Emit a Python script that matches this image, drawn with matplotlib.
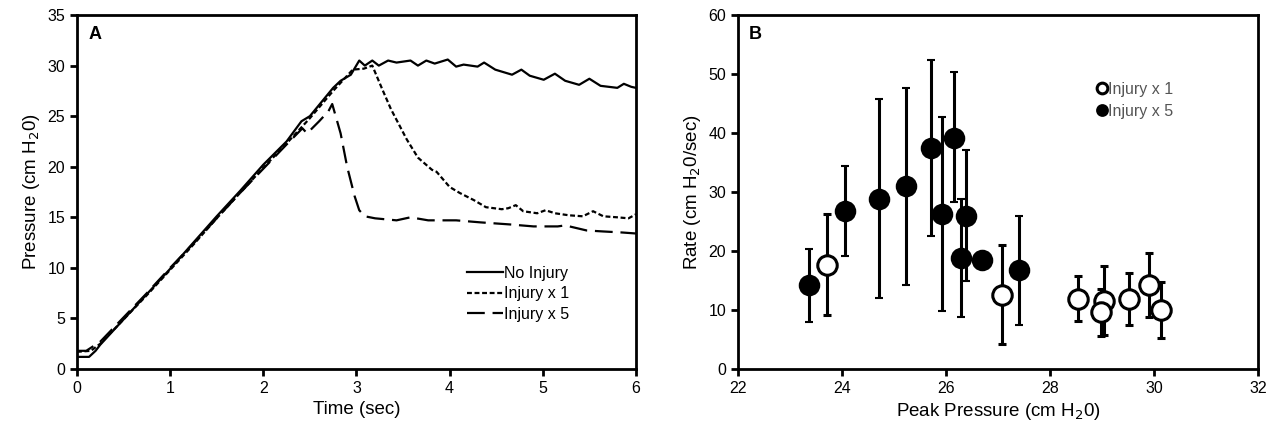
import matplotlib
matplotlib.use("Agg")
import matplotlib.pyplot as plt
import numpy as np

plt.rcParams['font.family'] = ['Liberation Sans', 'DejaVu Sans']

# ---------------- Panel A data ----------------
t_none = [0.0, 0.13, 0.2, 0.25, 0.5, 0.75, 1.0, 1.25, 1.5, 1.75, 2.0, 2.25, 2.41, 2.5, 2.75, 2.83, 2.94,
          3.03, 3.09, 3.17, 3.24, 3.34, 3.43, 3.58, 3.66, 3.75, 3.84, 3.98, 4.07, 4.15, 4.30, 4.37,
          4.49, 4.67, 4.77, 4.86, 5.01, 5.13, 5.24, 5.39, 5.50, 5.62, 5.80, 5.87, 5.95, 6.0]
p_none = [1.2, 1.2, 1.8, 2.4, 4.9, 7.4, 9.9, 12.5, 15.1, 17.6, 20.2, 22.5, 24.5, 25.0, 27.8, 28.5, 29.1,
          30.5, 30.0, 30.5, 30.0, 30.5, 30.3, 30.5, 30.0, 30.5, 30.2, 30.6, 29.9, 30.1, 29.9, 30.3,
          29.6, 29.1, 29.6, 29.0, 28.6, 29.2, 28.5, 28.1, 28.7, 28.0, 27.8, 28.2, 27.9, 27.8]

t_inj1 = [0.0, 0.15, 0.25, 0.5, 0.75, 1.0, 1.25, 1.5, 1.75, 2.0, 2.25, 2.5, 2.75, 2.96, 3.08, 3.17,
          3.28, 3.37, 3.54, 3.66, 3.81, 3.86, 4.0, 4.11, 4.26, 4.39, 4.56, 4.63, 4.71, 4.79, 4.94,
          5.03, 5.13, 5.28, 5.43, 5.54, 5.65, 5.80, 5.92, 6.0]
p_inj1 = [1.7, 1.8, 2.5, 4.9, 7.3, 9.8, 12.3, 14.9, 17.4, 19.9, 22.3, 24.8, 27.5, 29.6, 29.7, 30.0,
          27.6, 25.7, 22.7, 20.9, 19.7, 19.5, 18.0, 17.4, 16.7, 16.0, 15.8, 15.9, 16.2, 15.6, 15.4,
          15.7, 15.4, 15.2, 15.1, 15.6, 15.1, 15.0, 14.9, 15.3]

t_inj5 = [0.0, 0.1, 0.25, 0.5, 0.75, 1.0, 1.25, 1.5, 1.75, 2.0, 2.25, 2.42, 2.47, 2.60, 2.70, 2.74,
          2.83, 2.90, 2.98, 3.03, 3.09, 3.20, 3.43, 3.58, 3.77, 4.07, 4.33, 4.64, 4.90, 5.16,
          5.24, 5.47, 5.65, 5.85, 6.0]
p_inj5 = [1.8, 1.8, 2.7, 5.1, 7.5, 10.0, 12.4, 14.9, 17.4, 19.8, 22.2, 23.8, 23.3, 24.5, 25.5, 26.2,
          23.3, 20.0, 17.1, 15.7, 15.1, 14.9, 14.7, 15.0, 14.7, 14.7, 14.5, 14.3, 14.1, 14.1,
          14.2, 13.7, 13.6, 13.5, 13.4]

# ---------------- Panel B data ----------------
x_inj1 = [23.71, 27.08, 28.53, 29.04, 28.99, 29.51, 29.90, 30.13]
y_inj1 = [17.7, 12.6, 11.9, 11.6, 9.6, 11.9, 14.3, 10.0]
hi_inj1 = [26.3, 21.0, 15.8, 17.4, 13.6, 16.2, 19.6, 14.7]
lo_inj1 = [9.1, 4.2, 8.2, 5.8, 5.6, 7.5, 8.9, 5.2]

x_inj5 = [23.37, 24.06, 24.71, 25.23, 25.72, 25.93, 26.15, 26.38, 26.28, 26.69, 27.41]
y_inj5 = [14.2, 26.8, 28.9, 31.0, 37.5, 26.2, 39.2, 26.0, 18.9, 18.4, 16.7]
hi_inj5 = [20.4, 34.4, 45.7, 47.6, 52.4, 42.7, 50.3, 37.1, 28.9, 19.6, 26.0]
lo_inj5 = [7.9, 19.1, 12.1, 14.2, 22.6, 9.9, 28.3, 15.0, 8.8, 17.2, 7.4]

fig = plt.figure(figsize=(12.76, 4.32), dpi=100)
axA = fig.add_axes([0.0603, 0.1458, 0.4381, 0.8194])
axB = fig.add_axes([0.5784, 0.1458, 0.4075, 0.8194])

lw = 1.6
axA.plot(t_none, p_none, color='black', lw=lw, label='No Injury')
axA.plot(t_inj1, p_inj1, color='black', lw=lw, dashes=(2.2, 1.2), label='Injury x 1')
axA.plot(t_inj5, p_inj5, color='black', lw=lw, dashes=(8, 3.5), label='Injury x 5')
axA.set_xlim(0, 6)
axA.set_ylim(0, 35)
axA.set_xticks(range(0, 7))
axA.set_yticks(range(0, 36, 5))
axA.set_xlabel('Time (sec)', fontsize=13.5)
axA.set_ylabel('Pressure (cm H$_2$0)', fontsize=13.5)
axA.text(0.02, 0.97, 'A', transform=axA.transAxes, fontsize=13, fontweight='bold', va='top', ha='left')
legA = axA.legend(loc='upper left', bbox_to_anchor=(0.687, 0.31), frameon=False, fontsize=11.5,
                  handlelength=2.2, handletextpad=0.1, labelspacing=0.35, borderaxespad=0)

# Panel B
ekw = dict(ecolor='black', elinewidth=2.2, capsize=3, capthick=2.2)
axB.errorbar(x_inj5, y_inj5,
             yerr=[np.array(y_inj5) - np.array(lo_inj5), np.array(hi_inj5) - np.array(y_inj5)],
             fmt='o', ms=14, mfc='black', mec='black', mew=1.5, label='Injury x 5', zorder=3, **ekw)
axB.errorbar(x_inj1, y_inj1,
             yerr=[np.array(y_inj1) - np.array(lo_inj1), np.array(hi_inj1) - np.array(y_inj1)],
             fmt='o', ms=14, mfc='white', mec='black', mew=2.2, label='Injury x 1', zorder=3, **ekw)
axB.set_xlim(22, 32)
axB.set_ylim(0, 60)
axB.set_xticks(range(22, 33, 2))
axB.set_yticks(range(0, 61, 10))
axB.set_xlabel('Peak Pressure (cm H$_2$0)', fontsize=13.5)
axB.set_ylabel('Rate (cm H$_2$0/sec)', fontsize=13.5)
axB.text(0.02, 0.97, 'B', transform=axB.transAxes, fontsize=13, fontweight='bold', va='top', ha='left')
h, l = axB.get_legend_handles_labels()
h = [hh[0] for hh in h]
legB = axB.legend(h[::-1], l[::-1], loc='upper left', bbox_to_anchor=(0.678, 0.83), frameon=False,
                  fontsize=11.5, markerscale=0.55, handlelength=0.6, handletextpad=0.1,
                  labelspacing=0.45, borderaxespad=0)
for txt in legB.get_texts():
    txt.set_color('#555555')

for ax in (axA, axB):
    for s in ax.spines.values():
        s.set_linewidth(2)
        s.set_color('black')
    ax.tick_params(direction='out', length=5, width=2, labelsize=11.5, colors='black')

fig.savefig('out.png', dpi=100)
